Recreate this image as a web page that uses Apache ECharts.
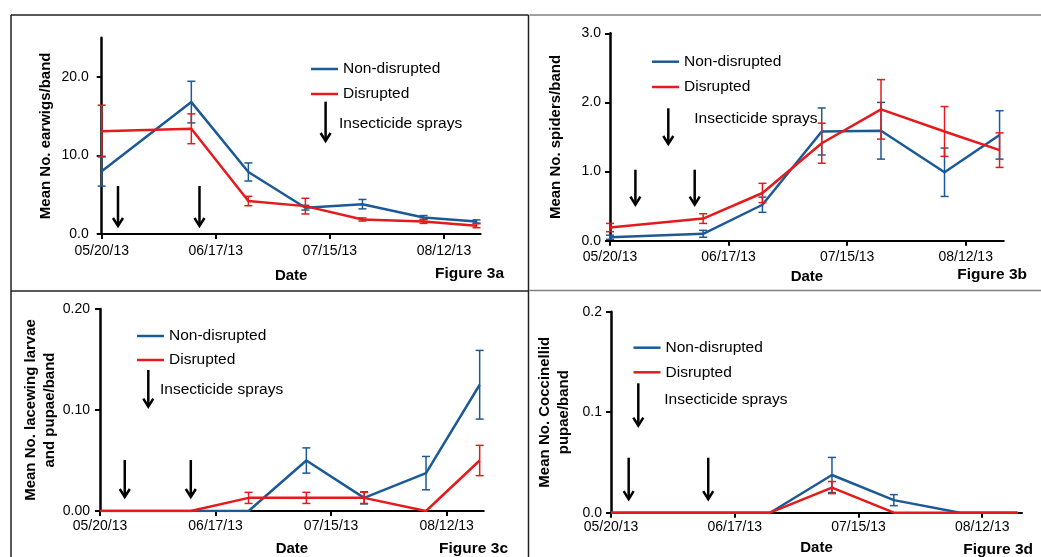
<!DOCTYPE html>
<html>
<head>
<meta charset="utf-8">
<title>Figure 3</title>
<script src="https://cdn.jsdelivr.net/npm/echarts@6/dist/echarts.min.js"></script>
<style>
html,body{margin:0;padding:0;background:#fff;}
#chart{width:1041px;height:557px;}
</style>
</head>
<body>
<div id="chart"></div>
<script>
// sampling dates, same in all four panels
var sampleDates = ['05/20/13', '06/11/13', '06/25/13', '07/09/13', '07/23/13', '08/07/13', '08/20/13'];
var dateTicks = ['05/20/13', '06/17/13', '07/15/13', '08/12/13'];
var axisEnd = '08/21/13';
var seriesNames = ['Non-disrupted', 'Disrupted'];

// Figure 3a - earwigs
var earwigNon = [8.0, 16.8, 7.9, 3.35, 3.8, 2.1, 1.6];
var earwigNonSe = [1.9, 2.65, 1.15, 0.3, 0.6, 0.25, 0.2];
var earwigDis = [13.1, 13.4, 4.2, 3.55, 1.85, 1.6, 1.05];
var earwigDisSe = [3.3, 1.9, 0.6, 1.0, 0.2, 0.25, 0.25];
var earwigTicks = [0, 10, 20];
var spraysA = ['05/24/13', '06/13/13'];

// Figure 3b - spiders
var spiderNon = [0.05, 0.1, 0.52, 1.58, 1.59, 0.99, 1.53];
var spiderNonSe = [0.03, 0.05, 0.11, 0.34, 0.41, 0.35, 0.35];
var spiderDis = [0.19, 0.32, 0.69, 1.41, 1.9, 1.58, 1.31];
var spiderDisSe = [0.06, 0.07, 0.14, 0.29, 0.43, 0.36, 0.25];
var spiderTicks = [0, 1, 2, 3];
var spraysB = ['05/26/13', '06/09/13'];

// Figure 3c - lacewing larvae and pupae
var lacewingNon = [0, 0, 0, 0.05, 0.013, 0.0375, 0.125];
var lacewingNonSe = [0, 0, 0, 0.0125, 0.006, 0.0165, 0.034];
var lacewingDis = [0, 0, 0.013, 0.013, 0.013, 0, 0.05];
var lacewingDisSe = [0, 0, 0.0055, 0.0055, 0.0055, 0, 0.015];
var lacewingTicks = [0, 0.1, 0.2];
var spraysC = ['05/26/13', '06/11/13'];

// Figure 3d - coccinellid pupae
var coccNon = [0, 0, 0, 0.0375, 0.0125, 0, 0];
var coccNonSe = [0, 0, 0, 0.0175, 0.0055, 0, 0];
var coccDis = [0, 0, 0, 0.025, 0, 0, 0];
var coccDisSe = [0, 0, 0, 0.006, 0, 0, 0];
var coccTicks = [0, 0.1, 0.2];
var spraysD = ['05/24/13', '06/11/13'];

var FONT = '"Liberation Sans", Arial, sans-serif';
var BLUE = '#1b5a96';
var RED = '#e41a1c';

// days since 05/20/13
function dayOf(s){
	var p = s.split('/');
	return (Date.UTC(2000 + Number(p[2]), Number(p[0]) - 1, Number(p[1])) - Date.UTC(2013, 4, 20)) / 86400000;
}

var sampleDays = sampleDates.map(dayOf);
var tickDays = dateTicks.map(dayOf);

// layout of each panel (pixels)
var panels = [
	{non: earwigNon, nonSe: earwigNonSe, dis: earwigDis, disSe: earwigDisSe, yTicks: earwigTicks, yMax: 25, dec: 1,
	 yName: 'Mean No. earwigs/band', sprays: spraysA, fig: 'Figure 3a',
	 grid: {left: 101.7, top: 37.7, width: 378.9, height: 196.3},
	 yGap: 47, yMargin: 13, xMargin: 10.5, dateGap: 34.5, figPos: [504, 274],
	 legend: [311, 61, 9], sprayText: [339, 124], keyArrow: [325.6, 101.7, 141], arrowGap: 8, arrowLen: 40},
	{non: spiderNon, nonSe: spiderNonSe, dis: spiderDis, disSe: spiderDisSe, yTicks: spiderTicks, yMax: 3, dec: 1,
	 yName: 'Mean No. spiders/band', sprays: spraysB, fig: 'Figure 3b',
	 grid: {left: 610, top: 33.3, width: 393.8, height: 207.4},
	 yGap: 45, yMargin: 9, xMargin: 9.3, dateGap: 29, figPos: [1027, 275],
	 legend: [652, 53.7, 9.3], sprayText: [694.3, 119], keyArrow: [668.3, 108.3, 144], arrowGap: 36, arrowLen: 35},
	{non: lacewingNon, nonSe: lacewingNonSe, dis: lacewingDis, disSe: lacewingDisSe, yTicks: lacewingTicks, yMax: 0.2, dec: 2,
	 yName: 'Mean No. lacewing larvae\nand pupae/band', sprays: spraysC, fig: 'Figure 3c',
	 grid: {left: 100, top: 309, width: 383.8, height: 205.5},
	 yGap: 39, yMargin: 10, xMargin: 8, dateGap: 30, figPos: [508, 549],
	 legend: [137, 328, 8], sprayText: [160, 389.3], keyArrow: [148.3, 370, 406.7], arrowGap: 14, arrowLen: 37},
	{non: coccNon, nonSe: coccNonSe, dis: coccDis, disSe: coccDisSe, yTicks: coccTicks, yMax: 0.2, dec: 1,
	 yName: 'Mean No. Coccinellid\npupae/band', sprays: spraysD, fig: 'Figure 3d',
	 grid: {left: 611, top: 311.7, width: 411, height: 201},
	 yGap: 38, yMargin: 9, xMargin: 7.3, dateGap: 28, figPos: [1033, 550],
	 legend: [633.5, 339.7, 8.6], sprayText: [664.3, 400], keyArrow: [638.3, 383.3, 425.7], arrowGap: 13.5, arrowLen: 41.5}
];

function pairs(vals, se){
	return sampleDays.map(function(d, i){ return se ? [d, vals[i], se[i]] : [d, vals[i]]; });
}

// vertical error bar with caps
function errRender(params, api){
	var se = api.value(2);
	if (!se) return null;
	var x = api.value(0), m = api.value(1);
	var lo = api.coord([x, m - se]);
	var hi = api.coord([x, m + se]);
	var w = 4;
	var st = {stroke: api.visual('color'), lineWidth: 1.5};
	return {type: 'group', children: [
		{type: 'line', shape: {x1: lo[0], y1: lo[1], x2: hi[0], y2: hi[1]}, style: st},
		{type: 'line', shape: {x1: lo[0] - w, y1: lo[1], x2: lo[0] + w, y2: lo[1]}, style: st},
		{type: 'line', shape: {x1: hi[0] - w, y1: hi[1], x2: hi[0] + w, y2: hi[1]}, style: st}
	]};
}

function arrowShape(x, yTop, yBottom){
	var st = {stroke: '#000', lineWidth: 2.5, fill: null, lineJoin: 'miter'};
	return {type: 'group', children: [
		{type: 'line', shape: {x1: x, y1: yTop, x2: x, y2: yBottom - 1}, style: st},
		{type: 'polyline', shape: {points: [[x - 5, yBottom - 8], [x, yBottom], [x + 5, yBottom - 8]]}, style: st}
	]};
}

function arrowRender(gap, len){
	return function(params, api){
		var p = api.coord([api.value(0), 0]);
		var yb = p[1] - gap;
		return arrowShape(p[0], yb - len, yb);
	};
}

var grids = [], xAxes = [], yAxes = [], series = [], legends = [], graphics = [];

panels.forEach(function(P, i){
	grids.push(P.grid);
	xAxes.push({
		gridIndex: i, type: 'value', min: 0, max: dayOf(axisEnd),
		axisLine: {lineStyle: {color: '#000', width: 2}},
		axisTick: {customValues: tickDays, length: 5, lineStyle: {color: '#000', width: 2}},
		axisLabel: {customValues: tickDays, margin: P.xMargin, fontSize: 14, color: '#000', fontFamily: FONT,
			formatter: function(v){ return dateTicks[tickDays.indexOf(v)]; }},
		splitLine: {show: false},
		name: 'Date', nameLocation: 'middle', nameGap: P.dateGap,
		nameTextStyle: {fontSize: 15, fontWeight: 'bold', color: '#000', fontFamily: FONT}
	});
	yAxes.push({
		gridIndex: i, type: 'value', min: 0, max: P.yMax,
		axisLine: {show: true, lineStyle: {color: '#000', width: 2.5}},
		axisTick: {show: true, customValues: P.yTicks, length: 5, lineStyle: {color: '#000', width: 2}},
		axisLabel: {customValues: P.yTicks, margin: P.yMargin, fontSize: 14, color: '#000', fontFamily: FONT,
			formatter: function(v){ return v.toFixed(P.dec); }},
		splitLine: {show: false},
		name: P.yName, nameLocation: 'middle', nameGap: P.yGap, nameRotate: 90,
		nameTextStyle: {fontSize: 15, fontWeight: 'bold', lineHeight: 18.5, color: '#000', fontFamily: FONT}
	});

	// lines first, red drawn over blue
	series.push({name: seriesNames[0], type: 'line', xAxisIndex: i, yAxisIndex: i, data: pairs(P.non),
		symbol: 'none', lineStyle: {color: BLUE, width: 2.5}, itemStyle: {color: BLUE}, z: 2});
	series.push({type: 'custom', xAxisIndex: i, yAxisIndex: i, data: pairs(P.non, P.nonSe),
		renderItem: errRender, itemStyle: {color: BLUE}, encode: {x: 0, y: 1}, z: 3});
	series.push({name: seriesNames[1], type: 'line', xAxisIndex: i, yAxisIndex: i, data: pairs(P.dis),
		symbol: 'none', lineStyle: {color: RED, width: 2.5}, itemStyle: {color: RED}, z: 4});
	series.push({type: 'custom', xAxisIndex: i, yAxisIndex: i, data: pairs(P.dis, P.disSe),
		renderItem: errRender, itemStyle: {color: RED}, encode: {x: 0, y: 1}, z: 5});
	// insecticide spray arrows
	series.push({type: 'custom', xAxisIndex: i, yAxisIndex: i, data: P.sprays.map(function(s){ return [dayOf(s), 0]; }),
		renderItem: arrowRender(P.arrowGap, P.arrowLen), encode: {x: 0, y: 1}, z: 6, silent: true});

	legends.push({
		data: seriesNames, orient: 'vertical', left: P.legend[0], top: P.legend[1], itemGap: P.legend[2],
		padding: 0, icon: 'rect', itemWidth: 27, itemHeight: 2.5, selectedMode: false,
		textStyle: {fontSize: 15.5, lineHeight: 16, color: '#000', fontFamily: FONT}
	});

	graphics.push({type: 'text', x: P.sprayText[0], y: P.sprayText[1],
		style: {text: 'Insecticide sprays', fontSize: 15.5, fill: '#000', fontFamily: FONT, align: 'left', verticalAlign: 'middle'}});
	graphics.push(arrowShape(P.keyArrow[0], P.keyArrow[1], P.keyArrow[2]));
	graphics.push({type: 'text', x: P.figPos[0], y: P.figPos[1],
		style: {text: P.fig, fontSize: 15.5, fontWeight: 'bold', fill: '#000', fontFamily: FONT, align: 'right', verticalAlign: 'middle'}});
});

// panel frames
var frameBlack = {stroke: '#222', lineWidth: 1.5};
var frameGrey = {stroke: '#808080', lineWidth: 1.5};
graphics.push({type: 'line', shape: {x1: 11, y1: 15, x2: 528.5, y2: 15}, style: frameBlack});
graphics.push({type: 'line', shape: {x1: 11, y1: 15, x2: 11, y2: 557}, style: frameBlack});
graphics.push({type: 'line', shape: {x1: 528.5, y1: 15, x2: 528.5, y2: 557}, style: frameBlack});
graphics.push({type: 'line', shape: {x1: 11, y1: 291, x2: 528.5, y2: 291}, style: frameBlack});
graphics.push({type: 'line', shape: {x1: 529.5, y1: 15, x2: 1041, y2: 15}, style: frameGrey});
graphics.push({type: 'line', shape: {x1: 529.5, y1: 290.5, x2: 1041, y2: 290.5}, style: frameGrey});

var option = {
	animation: false,
	backgroundColor: '#fff',
	grid: grids,
	xAxis: xAxes,
	yAxis: yAxes,
	legend: legends,
	series: series,
	graphic: graphics
};

var myChart = echarts.init(document.getElementById('chart'));
myChart.setOption(option);
</script>
</body>
</html>
